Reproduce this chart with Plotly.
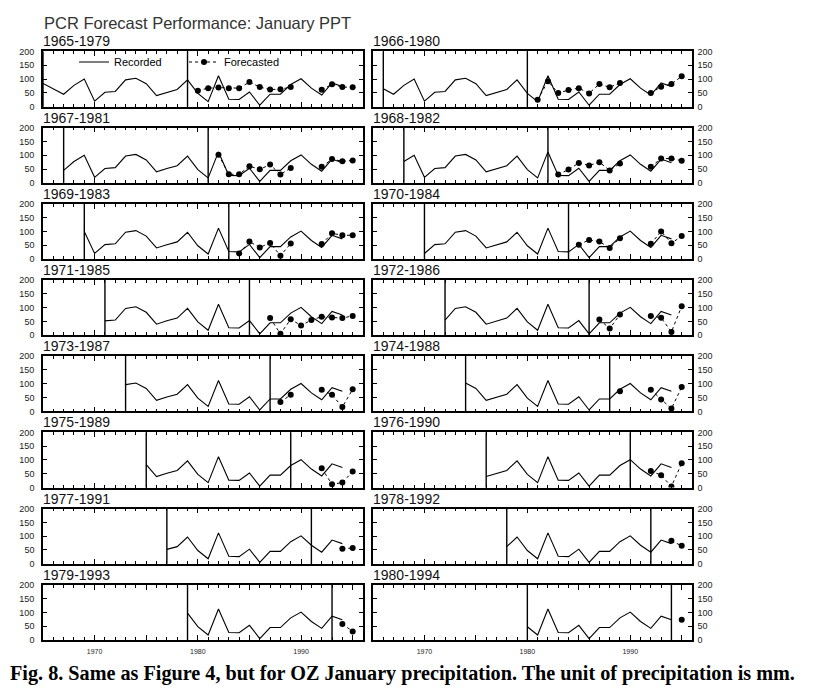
import plotly.graph_objects as go

# January precipitation (mm), recorded, 1965-1994
years = list(range(1965, 1995))
recorded = [84, 65, 45, 77, 100, 20, 52, 55, 97, 103, 83, 40, 52, 62, 97,
            48, 18, 112, 27, 26, 53, 5, 45, 45, 80, 101, 67, 42, 86, 73]

# forecasts for each training period, years after the period up to 1995
# (None = no dot visible)
fc_1965 = [58, 67, 69, 67, 67, 89, 71, 62, 63, 71, None, None, 61, 81, 71, 70]
fc_1966 = [25, 92, 49, 60, 67, 48, 82, 70, 86, None, None, 49, 72, 82, 110]
fc_1967 = [102, 31, 31, 60, 49, 66, 30, 54, None, None, 58, 86, 78, 81]
fc_1968 = [30, 48, 72, 63, 75, 45, 70, None, None, 58, 88, 88, 80]
fc_1969 = [20, 63, 42, 58, 12, 56, None, None, 54, 93, 86, 86]
fc_1970 = [52, 69, 63, 40, 75, None, None, 55, 100, 57, 83]
fc_1971 = [None, 62, 5, 58, 35, 55, 67, 64, 62, 70]
fc_1972 = [57, 24, 75, None, None, 70, 63, 12, 105]
fc_1973 = [34, 60, None, None, 78, 60, 16, 80]
fc_1974 = [73, None, None, 78, 43, 10, 88]
fc_1975 = [None, None, 70, 12, 18, 58]
fc_1976 = [None, 60, 45, 4, 88]
fc_1977 = [None, None, 54, 57]
fc_1978 = [None, 83, 65]
fc_1979 = [58, 31]
fc_1980 = [73]

forecasts = [fc_1965, fc_1966, fc_1967, fc_1968, fc_1969, fc_1970, fc_1971, fc_1972,
             fc_1973, fc_1974, fc_1975, fc_1976, fc_1977, fc_1978, fc_1979, fc_1980]
start_years = list(range(1965, 1981))

x_tick_vals = [1965, 1970, 1975, 1980, 1985, 1990, 1995]
x_tick_text = ["", "1970", "", "1980", "", "1990", ""]
y_tick_vals = [0, 50, 100, 150, 200]

W, H = 816, 695
OFF = 8  # page margin around the plot div


def px(x):
    return (x - OFF) / W


def py(y):
    return 1 - (y - OFF) / H


fig = go.Figure()

for i, s in enumerate(start_years):
    k = i + 1
    r, c = i // 2, i % 2
    top = 47 + 77.3 * r
    bot = top + 56
    x0, x1 = (43, 363) if c == 0 else (373, 692)
    xa = "x" if k == 1 else f"x{k}"
    ya = "y" if k == 1 else f"y{k}"

    # recorded series from the start year on
    idx = years.index(s)
    fig.add_trace(go.Scatter(
        x=years[idx:], y=recorded[idx:], mode="lines",
        line=dict(color="black", width=1.1),
        name="Recorded", showlegend=(k == 1), xaxis=xa, yaxis=ya))

    fc = forecasts[i]
    fc_years = list(range(s + 15, s + 15 + len(fc)))
    fig.add_trace(go.Scatter(
        x=fc_years, y=fc, mode="lines+markers",
        line=dict(color="black", width=1, dash="dot"),
        marker=dict(color="black", size=6),
        connectgaps=False,
        name="Forecasted", showlegend=(k == 1), xaxis=xa, yaxis=ya))

    # training period boundaries
    for xv in (s, s + 14):
        fig.add_shape(type="line", xref=xa, yref=f"{ya} domain",
                      x0=xv, x1=xv, y0=0, y1=1,
                      line=dict(color="black", width=1.4))

    fig.layout[f"xaxis{'' if k == 1 else k}"] = dict(
        domain=[px(x0), px(x1)], anchor=ya, range=[1965, 1996],
        showline=True, linecolor="black", linewidth=1.6, mirror="ticks",
        showgrid=False, zeroline=False,
        tickvals=x_tick_vals, ticktext=x_tick_text, ticks="inside",
        ticklen=5, tickwidth=1.2, tickcolor="black",
        showticklabels=(r == 7), tickfont=dict(size=7, color="#222"),
        ticklabelstandoff=4,
        minor=dict(dtick=1, tick0=1965, ticks="inside", ticklen=3,
                   tickcolor="black", showgrid=False))
    fig.layout[f"yaxis{'' if k == 1 else k}"] = dict(
        domain=[py(bot), py(top)], anchor=xa, range=[0, 200],
        side="left" if c == 0 else "right",
        showline=True, linecolor="black", linewidth=1.6, mirror="ticks",
        showgrid=False, zeroline=False,
        tickvals=y_tick_vals, ticks="inside", ticklen=4, tickwidth=1.2,
        tickcolor="black", tickfont=dict(size=9, color="#222"),
        ticklabelstandoff=5 if c == 0 else 2)

    fig.add_annotation(text=f"{s}-{s + 14}", xref="paper", yref="paper",
                       x=px(x0 - 1), y=py(top - 1), xanchor="left", yanchor="bottom",
                       showarrow=False, borderpad=0, font=dict(size=14, color="#111"))

fig.add_annotation(text="PCR Forecast Performance: January PPT",
                   xref="paper", yref="paper", x=px(43), y=1,
                   xanchor="left", yanchor="top", showarrow=False, borderpad=0,
                   font=dict(size=16.5, color="#333"))

fig.add_annotation(text="<b>Fig. 8. Same as Figure 4, but for OZ January precipitation. "
                        "The unit of precipitation is mm.</b>",
                   xref="paper", yref="paper", x=px(9), y=py(678),
                   xanchor="left", yanchor="middle", showarrow=False, borderpad=0,
                   font=dict(size=20.2, color="black", family="Liberation Serif"))

fig.update_layout(
    width=W, height=H, margin=dict(l=0, r=0, t=0, b=0),
    paper_bgcolor="white", plot_bgcolor="white",
    font=dict(family="Liberation Sans, Arial, sans-serif", color="black"),
    legend=dict(orientation="h", x=px(74), y=py(43), xanchor="left", yanchor="top",
                bgcolor="rgba(0,0,0,0)", font=dict(size=11),
                entrywidth=65, entrywidthmode="pixels", itemwidth=30,
                tracegroupgap=0),
)

fig.write_html("out.html")
